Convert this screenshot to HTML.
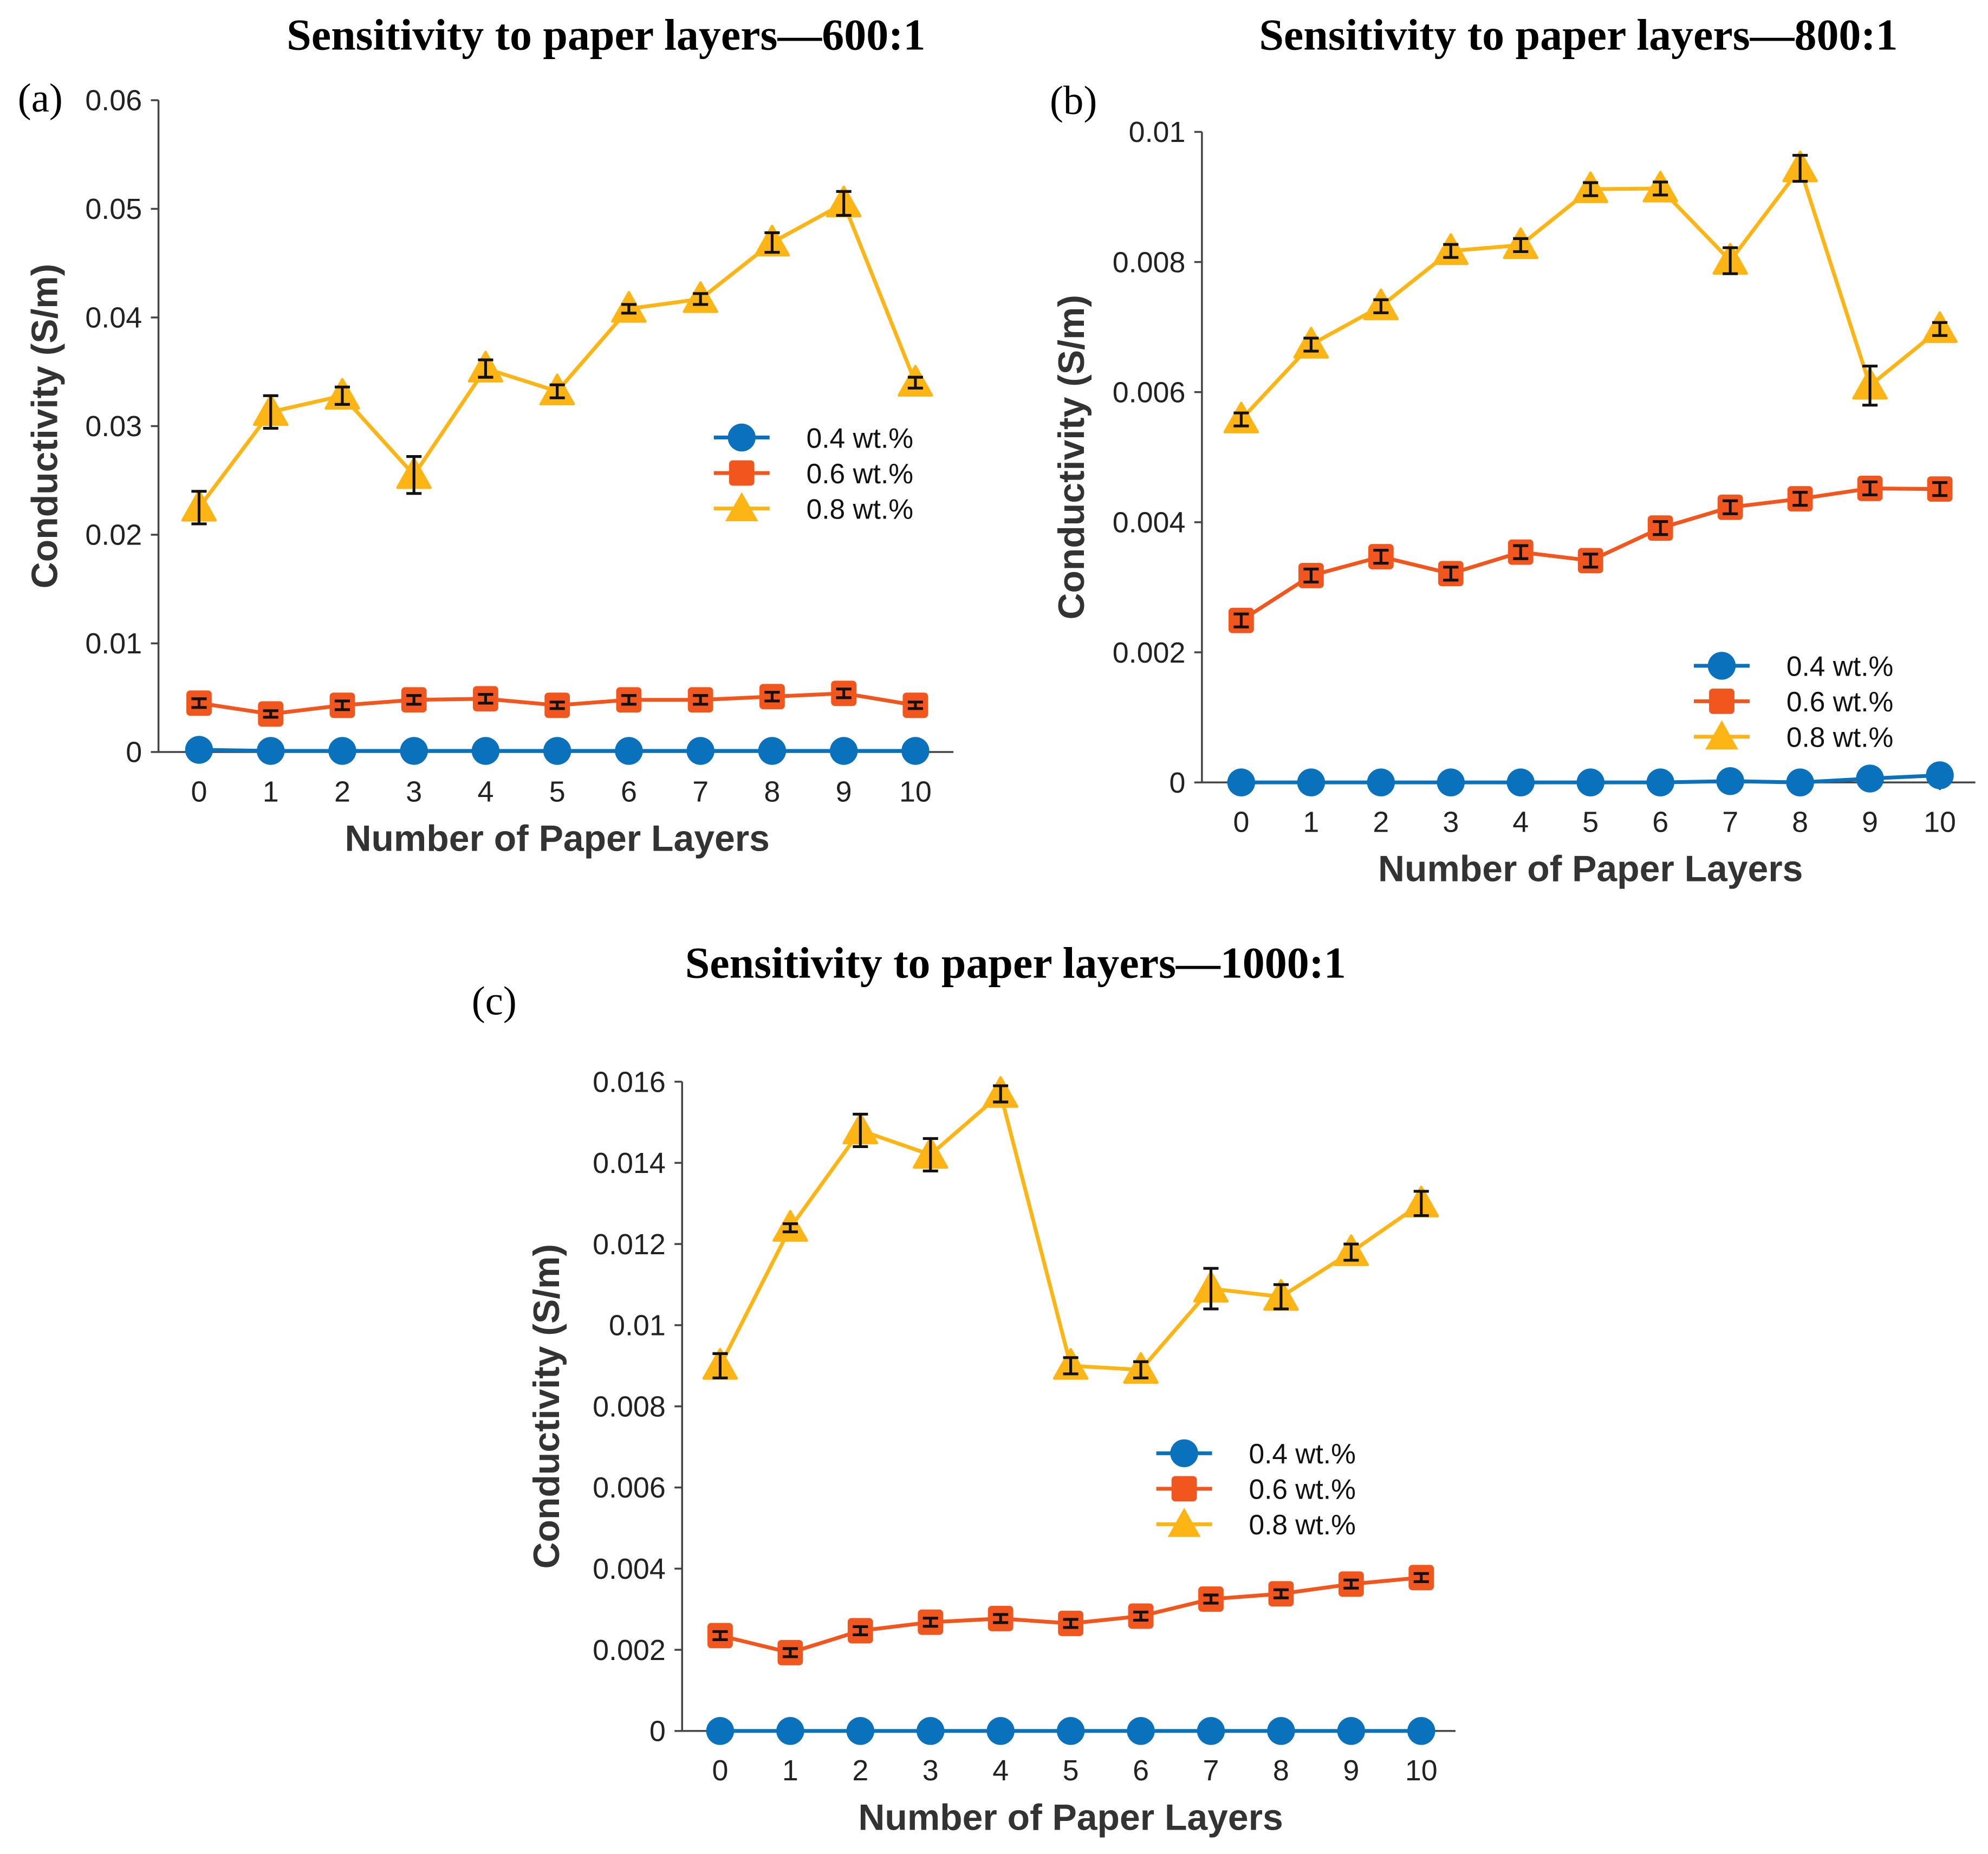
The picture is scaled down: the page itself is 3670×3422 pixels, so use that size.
<!DOCTYPE html>
<html><head><meta charset="utf-8"><style>
html,body{margin:0;padding:0;background:#fff;}
svg{display:block;}
text{font-family:"Liberation Sans",Arial,sans-serif;}
.t{font-family:"Liberation Serif",serif;font-weight:bold;font-size:35px;}
.tick{font-size:23px;fill:#222;}
.axt{font-size:29px;font-weight:bold;fill:#333;}
.leg{font-size:22px;fill:#111;}
</style></head><body>
<svg id="fig" width="3670" height="3422" viewBox="0 0 1568 1462" xmlns="http://www.w3.org/2000/svg">
<text class="t" x="478" y="39" text-anchor="middle">Sensitivity to paper layers—600:1</text>
<text class="t" x="1245" y="39" text-anchor="middle">Sensitivity to paper layers—800:1</text>
<text class="t" x="801" y="771" text-anchor="middle">Sensitivity to paper layers—1000:1</text>
<text class="t" x="14" y="88" style="font-weight:normal;font-size:32px">(a)</text>
<text class="t" x="828" y="90" style="font-weight:normal;font-size:32px">(b)</text>
<text class="t" x="372" y="800" style="font-weight:normal;font-size:32px">(c)</text>
</svg>
<script>
const layers=[0,1,2,3,4,5,6,7,8,9,10];
const seriesNames=['0.4 wt.%','0.6 wt.%','0.8 wt.%'];
// Panel a
const a04=[0.0002,0.0001,0.0001,0.0001,0.0001,0.0001,0.0001,0.0001,0.0001,0.0001,0.0001];
const a06=[0.0045,0.0035,0.0043,0.0048,0.0049,0.0043,0.0048,0.0048,0.0051,0.0054,0.0043];
const a08=[0.0225,0.0313,0.0328,0.0255,0.0353,0.0332,0.0408,0.0417,0.0469,0.0505,0.0340];
const a06e=[0.0004,0.0003,0.0004,0.0004,0.0004,0.0003,0.0004,0.0004,0.0004,0.0004,0.0003];
const a08e=[0.0015,0.0015,0.0008,0.0017,0.0008,0.0006,0.0004,0.0005,0.0009,0.0011,0.0005];
const aTicks=['0','0.01','0.02','0.03','0.04','0.05','0.06'];
// Panel b
const b04=[0,0,0,0,0,0,0,0.00002,0,0.00006,0.00011];
const b06=[0.00249,0.00318,0.00347,0.00321,0.00354,0.00341,0.00391,0.00423,0.00436,0.00452,0.00451];
const b08=[0.00558,0.00673,0.00732,0.00817,0.00826,0.00912,0.00913,0.00802,0.00944,0.00610,0.00697];
const b06e=[0.0001,0.0001,0.0001,0.0001,0.0001,0.0001,0.0001,0.0001,0.0001,0.0001,0.0001];
const b08e=[0.0001,0.0001,0.0001,0.0001,0.0001,0.0001,0.0001,0.0002,0.0002,0.0003,0.0001];
const bTicks=['0','0.002','0.004','0.006','0.008','0.01'];
// Panel c
const c04=[0,0,0,0,0,0,0,0,0,0,0];
const c06=[0.00235,0.00193,0.00247,0.00268,0.00277,0.00265,0.00283,0.00325,0.00338,0.00362,0.00378];
const c08=[0.0090,0.0124,0.0148,0.0142,0.0157,0.0090,0.0089,0.0109,0.0107,0.0118,0.0130];
const c06e=[0.0001,0.0001,0.0001,0.0001,0.0001,0.0001,0.0001,0.0001,0.0001,0.0001,0.0001];
const c08e=[0.0003,0.0001,0.0004,0.0004,0.0002,0.0002,0.0002,0.0005,0.0003,0.0002,0.0003];
const cTicks=['0','0.002','0.004','0.006','0.008','0.01','0.012','0.014','0.016'];

const NS='http://www.w3.org/2000/svg';
const svg=document.getElementById('fig');
const COL=['#0a72bd','#f0561d','#fdb515'];
function mk(tag,attrs,parent){const e=document.createElementNS(NS,tag);for(const k in attrs)e.setAttribute(k,attrs[k]);(parent||svg).appendChild(e);return e;}

function panel(id,cfg,s04,s06,s08,e06,e08,ticks){
  const g=mk('g',{});
  
  
  const ymax=parseFloat(ticks[ticks.length-1]);
  const Y=v=>cfg.y0-(v/ymax)*(cfg.y0-cfg.y1);
  const X=i=>cfg.x0+(i/10)*(cfg.x10-cfg.x0);
  const ya=mk('line',{x1:cfg.ax,y1:cfg.y1,x2:cfg.ax,y2:cfg.y0,stroke:'#444','stroke-width':1.5},g);
  
  
  const xa=mk('line',{x1:cfg.ax,y1:cfg.y0,x2:cfg.xend,y2:cfg.y0,stroke:'#444','stroke-width':1.5},g);
  
  
  ticks.forEach(t=>{
    const v=parseFloat(t),y=Y(v);
    mk('line',{x1:cfg.ax-6,y1:y,x2:cfg.ax,y2:y,stroke:'#444','stroke-width':1.5},g);
    const tx=mk('text',{x:cfg.ax-13,y:y+8,'text-anchor':'end',class:'tick'},g);
    tx.textContent=t;
    
    
  });
  layers.forEach((l,i)=>{
    const x=X(i);
    mk('line',{x1:x,y1:cfg.y0,x2:x,y2:cfg.y0+6,stroke:'#444','stroke-width':1.5},g);
    const tx=mk('text',{x:x,y:cfg.y0+39,'text-anchor':'middle',class:'tick'},g);
    tx.textContent=l;
    
    
  });
  const xt=mk('text',{x:(cfg.x0+cfg.x10)/2,y:cfg.y0+78,'text-anchor':'middle',class:'axt'},g);
  xt.textContent='Number of Paper Layers';
  
  
  const ytx=cfg.ytx, yty=(cfg.y0+cfg.y1)/2+cfg.ytoff;
  const yt=mk('text',{x:ytx,y:yty,'text-anchor':'middle',class:'axt',transform:`rotate(-90 ${ytx} ${yty})`},g);
  yt.textContent='Conductivity (S/m)';
  
  
  const all=[[s04,null],[s06,e06],[s08,e08]];
  all.forEach((pair,si)=>{
    const d=pair[0],e=pair[1];
    const sg=mk('g',{},g);
    
    
    const pts=d.map((v,i)=>X(i)+','+Y(v)).join(' ');
    mk('polyline',{points:pts,fill:'none',stroke:COL[si],'stroke-width':3},sg);
    d.forEach((v,i)=>{
      const x=X(i),y=Y(v);
      let m;
      if(si===0)m=mk('circle',{cx:x,cy:y,r:11,fill:COL[0]},sg);
      else if(si===1)m=mk('rect',{x:x-10,y:y-10,width:20,height:20,rx:3,fill:COL[1]},sg);
      else m=mk('polygon',{points:`${x},${y-13} ${x+13},${y+10} ${x-13},${y+10}`,fill:COL[2],stroke:COL[2],'stroke-width':2,'stroke-linejoin':'round'},sg);
      
      
      if(e){
        const yt=Y(v+e[i]),yb=Y(v-e[i]);
        const eb=mk('path',{d:`M${x},${yt}V${yb}M${x-6},${yt}H${x+6}M${x-6},${yb}H${x+6}`,stroke:'#111','stroke-width':2.2,fill:'none'},sg);
        
        
      }
    });
  });
  const lg=mk('g',{},g);
  
  
  seriesNames.forEach((n,si)=>{
    const y=cfg.ly+si*28,x1=cfg.lx,x2=cfg.lx+44,xm=(x1+x2)/2;
    const eg=mk('g',{},lg);
    
    
    mk('line',{x1:x1,y1:y,x2:x2,y2:y,stroke:COL[si],'stroke-width':3},eg);
    if(si===0)mk('circle',{cx:xm,cy:y,r:11,fill:COL[0]},eg);
    else if(si===1)mk('rect',{x:xm-10,y:y-10,width:20,height:20,rx:3,fill:COL[1]},eg);
    else mk('polygon',{points:`${xm},${y-13} ${xm+13},${y+10} ${xm-13},${y+10}`,fill:COL[2]},eg);
    const t=mk('text',{x:cfg.lx+73,y:y+8,class:'leg'},eg);
    t.textContent=n;
  });
}
panel('a',{ax:125,xend:752,y0:593,y1:79,x0:157,x10:722,ytx:45,ytoff:0,lx:563,ly:345},a04,a06,a08,a06e,a08e,aTicks);
panel('b',{ax:948,xend:1558,y0:617,y1:104,x0:979,x10:1530,ytx:855,ytoff:0,lx:1336,ly:525},b04,b06,b08,b06e,b08e,bTicks);
panel('c',{ax:538,xend:1148,y0:1365,y1:853,x0:568,x10:1121,ytx:441,ytoff:0,lx:912,ly:1146},c04,c06,c08,c06e,c08e,cTicks);
</script>
</body></html>
